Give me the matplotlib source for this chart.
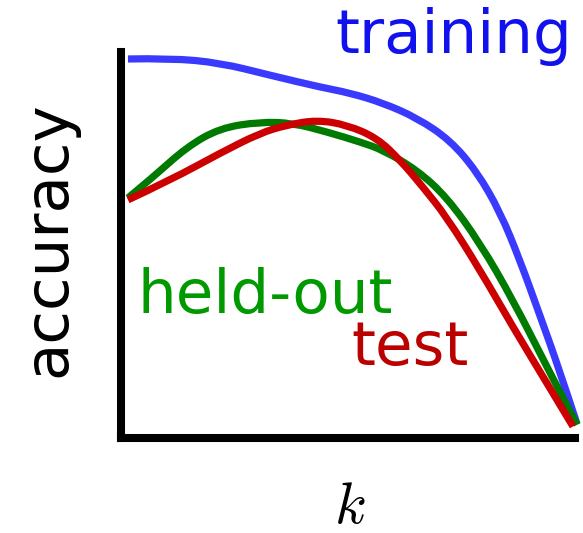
import matplotlib
matplotlib.use("Agg")
import matplotlib.pyplot as plt
from matplotlib.path import Path
from matplotlib.patches import PathPatch

plt.rcParams['font.family'] = ['DejaVu Sans']
plt.rcParams['mathtext.fontset'] = 'cm'

# curves (k on 0..10, accuracy on 0..1)
k_train = [0, 0.94, 2.05, 3.16, 4.28, 4.94, 5.68, 6.44, 7.17, 7.77, 8.29, 8.73, 9.15, 9.62, 10.0]
acc_train = [0.982, 0.984, 0.972, 0.940, 0.909, 0.894, 0.868, 0.829, 0.772, 0.690, 0.585, 0.460, 0.325, 0.172, 0.036]

k_held = [0, 0.56, 1.31, 2.05, 2.94, 3.67, 4.43, 5.17, 5.68, 6.44, 7.10, 7.84, 8.57, 9.33, 10.0]
acc_held = [0.622, 0.676, 0.754, 0.803, 0.819, 0.816, 0.793, 0.767, 0.746, 0.694, 0.624, 0.505, 0.358, 0.184, 0.034]

k_test = [0, 0.94, 2.05, 2.94, 3.54, 4.21, 4.88, 5.55, 6.06, 6.57, 7.10, 7.84, 8.57, 9.33, 9.91]
acc_test = [0.617, 0.668, 0.738, 0.790, 0.811, 0.824, 0.811, 0.777, 0.720, 0.650, 0.572, 0.435, 0.288, 0.142, 0.030]


# smooth curve: quadratic beziers through midpoints, points as control points
def smooth_curve(ax, xs, ys, color):
    pts = list(zip(xs, ys))
    verts = [pts[0]]
    codes = [Path.MOVETO]
    for i in range(1, len(pts) - 1):
        mid = ((pts[i][0] + pts[i + 1][0]) / 2, (pts[i][1] + pts[i + 1][1]) / 2)
        if i == len(pts) - 2:
            mid = pts[-1]
        verts += [pts[i], mid]
        codes += [Path.CURVE3, Path.CURVE3]
    patch = PathPatch(Path(verts, codes), facecolor='none', edgecolor=color,
                      lw=5.2, clip_on=False, capstyle='butt')
    ax.add_patch(patch)


fig = plt.figure(figsize=(5.83, 5.33), dpi=100)
ax = fig.add_axes([0.2075, 0.1782, 0.7788, 0.7242])

smooth_curve(ax, k_train, acc_train, '#3a3aff')
smooth_curve(ax, k_held, acc_held, '#007a00')
smooth_curve(ax, k_test, acc_test, '#cc0000')

ax.set_xlim(-0.156, 9.955)
ax.set_ylim(0, 1)
ax.set_xticks([])
ax.set_yticks([])
ax.spines['top'].set_visible(False)
ax.spines['right'].set_visible(False)
ax.spines['left'].set_linewidth(5.8)
ax.spines['bottom'].set_linewidth(5.8)

# labels
fig.text(0.5746, 0.9006, 'training', color='#1111ee', fontsize=44, ha='left', va='baseline')
fig.text(0.2358, 0.4128, 'held-out', color='#009900', fontsize=44, ha='left', va='baseline')
fig.text(0.602, 0.3152, 'test', color='#bb0000', fontsize=44, ha='left', va='baseline')
fig.text(0.084, 0.5516, 'accuracy', color='black', fontsize=44, rotation=90, ha='center', va='center')
fig.text(0.6003, 0.049, '$k$', color='black', fontsize=42, ha='center', va='center')

fig.savefig('out.png', dpi=100)
